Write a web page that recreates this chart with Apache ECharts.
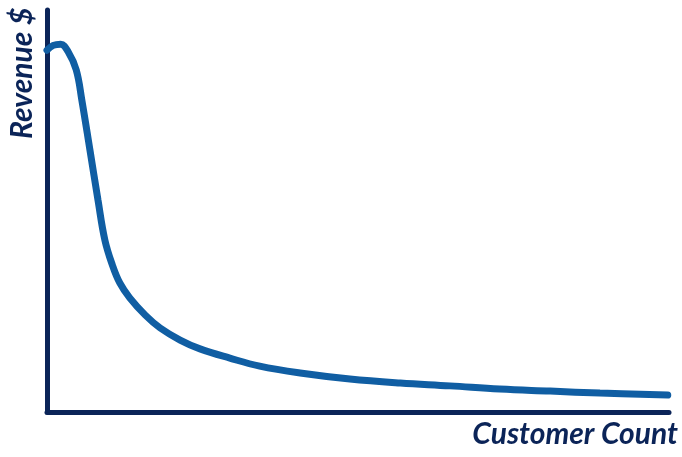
<!DOCTYPE html>
<html>
<head>
<meta charset="utf-8">
<script src="https://cdn.jsdelivr.net/npm/echarts@6/dist/echarts.min.js"></script>
<style>
  html, body { margin: 0; padding: 0; background: #fff; }
  #main { width: 682px; height: 457px; }
</style>
</head>
<body>
<div id="main"></div>
<script>
var chart = echarts.init(document.getElementById('main'));

// customer count (arbitrary units) vs revenue (arbitrary units)
const customers = [0, 1.0, 2.2, 3.4, 4.7, 5.6, 6.9, 8.2, 9.3, 10.5, 11.7, 13.3, 15.8, 18.2, 21.4, 24.6, 29.4, 34.2, 40.7, 48.7, 56.8, 64.8, 72.8, 80.9, 88.9, 99.8];
const revenue = [90.0, 91.2, 91.5, 89.6, 85.1, 77.6, 65.2, 52.7, 42.8, 36.6, 32.1, 28.4, 24.1, 20.9, 17.9, 15.7, 13.4, 11.4, 9.7, 8.2, 7.2, 6.5, 5.7, 5.2, 4.7, 4.2];
const xTitle = 'Customer Count';
const yTitle = 'Revenue $';

var points = customers.map(function (c, i) { return [c, revenue[i]]; });

var axisColor = '#0b2458';
var option = {
  animation: false,
  grid: { left: 47, right: 13, top: 10, bottom: 45 },
  xAxis: {
    type: 'value',
    min: 0,
    max: 100,
    axisLine: { show: true, lineStyle: { color: axisColor, width: 5 } },
    axisTick: { show: false },
    axisLabel: { show: false },
    splitLine: { show: false }
  },
  yAxis: {
    type: 'value',
    min: 0,
    max: 100,
    axisLine: { show: true, lineStyle: { color: axisColor, width: 5 } },
    axisTick: { show: false },
    axisLabel: { show: false },
    splitLine: { show: false }
  },
  graphic: [
    {
      type: 'text',
      right: 4,
      top: 419,
      style: {
        text: xTitle,
        fill: axisColor,
        font: 'italic bold 30px Lato'
      }
    },
    {
      type: 'text',
      x: 7,
      y: 139,
      rotation: Math.PI / 2,
      style: {
        text: yTitle,
        fill: axisColor,
        font: 'italic bold 30px Lato',
        textVerticalAlign: 'top'
      }
    }
  ],
  series: [
    {
      type: 'line',
      data: points,
      smooth: 0.4,
      showSymbol: false,
      lineStyle: { color: '#105ea3', width: 7, cap: 'round' }
    }
  ]
};

option && chart.setOption(option);
</script>
</body>
</html>
